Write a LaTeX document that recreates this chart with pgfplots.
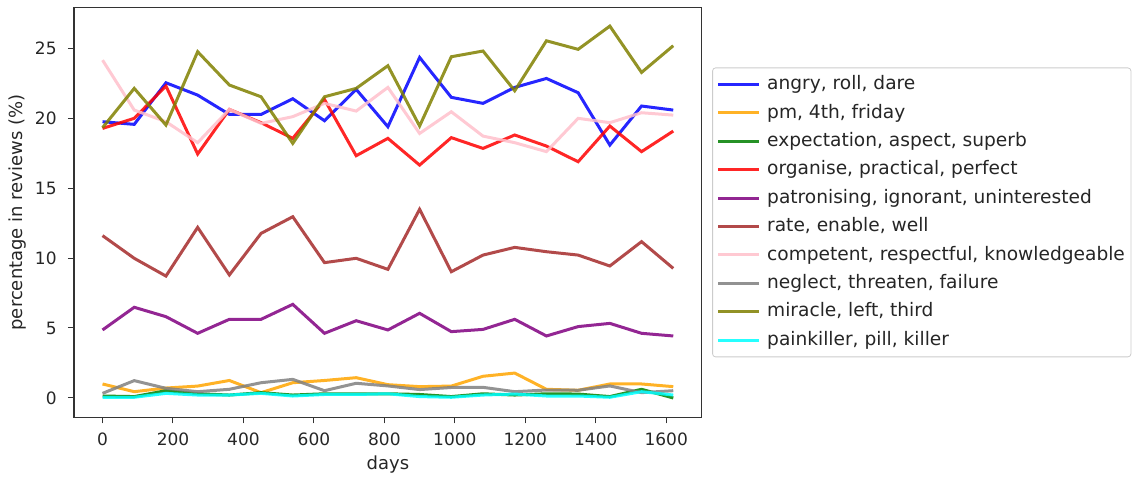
\documentclass[border=0pt]{standalone}
\usepackage{pgfplots}
\pgfplotsset{compat=1.18}
\usepackage{fontspec}
\setmainfont{DejaVu Sans}
\definecolor{mplblue}{RGB}{0,0,255}
\definecolor{mplorange}{RGB}{255,165,0}
\definecolor{mplgreen}{RGB}{0,128,0}
\definecolor{mplred}{RGB}{255,0,0}
\definecolor{mplpurple}{RGB}{128,0,128}
\definecolor{mplbrown}{RGB}{165,42,42}
\definecolor{mplpink}{RGB}{255,192,203}
\definecolor{mplgray}{RGB}{128,128,128}
\definecolor{mplolive}{RGB}{128,128,0}
\definecolor{mplcyan}{RGB}{0,255,255}
\begin{document}
\begin{tikzpicture}
\begin{axis}[
  scale only axis,
  width=313.9pt, height=204.9pt,
  xmin=-81, xmax=1701, ymin=-1.38, ymax=27.9,
  xtick={0,200,...,1600}, ytick={0,5,...,25},
  tick align=outside, tick pos=left,
  major tick length=3pt,
  every tick/.style={black!80, line width=0.5pt},
  axis line style={black!80, line width=0.6pt},
  /pgf/number format/assume math mode=true,
  /pgf/number format/1000 sep={},
  tick label style={font=\fontsize{8.5}{9}\selectfont, text=black!85},
  yticklabel style={inner sep=0pt, xshift=-5.5pt},
  xticklabel style={inner sep=0pt, yshift=-4.7pt},
  xlabel={days}, ylabel={percentage in reviews (\%)},
  label style={font=\fontsize{9}{10}\selectfont, text=black!85},
  xlabel style={at={(axis description cs:0.5,-0.116)}, anchor=center},
  ylabel style={at={(axis description cs:-0.09,0.5)}, anchor=center},
  every axis plot/.append style={line width=1.5pt, opacity=0.85},
  legend style={at={(1,0.5)}, xshift=5.2pt, anchor=west,
    draw=black!20, rounded corners=1.5pt, fill=white,
    font=\fontsize{9.3}{10}\selectfont, text=black!85,
    row sep=3.5pt, inner xsep=2pt, inner ysep=3pt,
    nodes={inner sep=1pt, text height=6.9pt, text depth=1.8pt},
    cells={anchor=west},
    /tikz/every odd column/.append style={column sep=2.5pt}},
  legend image code/.code={\draw[#1] (0pt,0pt) -- (20.3pt,0pt);},
]
\addplot[mplblue] coordinates {(0,19.74)(90,19.55)(180,22.52)(270,21.64)(360,20.26)(450,20.26)(540,21.38)(630,19.81)(720,22.05)(810,19.38)(900,24.33)(990,21.48)(1080,21.05)(1170,22.19)(1260,22.83)(1350,21.81)(1440,18.07)(1530,20.86)(1620,20.57)};
\addlegendentry{angry, roll, dare}
\addplot[mplorange] coordinates {(0,1.0)(90,0.45)(180,0.71)(270,0.85)(360,1.25)(450,0.38)(540,1.09)(630,1.25)(720,1.45)(810,0.95)(900,0.81)(990,0.85)(1080,1.55)(1170,1.78)(1260,0.62)(1350,0.55)(1440,1.0)(1530,1.0)(1620,0.81)};
\addlegendentry{pm, 4th, friday}
\addplot[mplgreen] coordinates {(0,0.14)(90,0.1)(180,0.52)(270,0.3)(360,0.21)(450,0.38)(540,0.21)(630,0.3)(720,0.3)(810,0.3)(900,0.25)(990,0.1)(1080,0.3)(1170,0.21)(1260,0.3)(1350,0.28)(1440,0.1)(1530,0.62)(1620,0.0)};
\addlegendentry{expectation, aspect, superb}
\addplot[mplred] coordinates {(0,19.26)(90,19.98)(180,22.29)(270,17.43)(360,20.62)(450,19.67)(540,18.55)(630,21.33)(720,17.31)(810,18.55)(900,16.64)(990,18.6)(1080,17.83)(1170,18.79)(1260,18.0)(1350,16.88)(1440,19.43)(1530,17.6)(1620,19.07)};
\addlegendentry{organise, practical, perfect}
\addplot[mplpurple] coordinates {(0,4.86)(90,6.48)(180,5.81)(270,4.62)(360,5.62)(450,5.62)(540,6.69)(630,4.62)(720,5.52)(810,4.86)(900,6.05)(990,4.74)(1080,4.9)(1170,5.62)(1260,4.43)(1350,5.1)(1440,5.33)(1530,4.62)(1620,4.43)};
\addlegendentry{patronising, ignorant, uninterested}
\addplot[mplbrown] coordinates {(0,11.6)(90,9.98)(180,8.71)(270,12.19)(360,8.79)(450,11.76)(540,12.95)(630,9.67)(720,9.98)(810,9.19)(900,13.48)(990,9.02)(1080,10.21)(1170,10.76)(1260,10.45)(1350,10.21)(1440,9.43)(1530,11.17)(1620,9.26)};
\addlegendentry{rate, enable, well}
\addplot[mplpink] coordinates {(0,24.14)(90,20.57)(180,19.74)(270,18.24)(360,20.62)(450,19.62)(540,20.1)(630,21.05)(720,20.5)(810,22.19)(900,18.9)(990,20.45)(1080,18.71)(1170,18.24)(1260,17.6)(1350,19.98)(1440,19.67)(1530,20.38)(1620,20.21)};
\addlegendentry{competent, respectful, knowledgeable}
\addplot[mplgray] coordinates {(0,0.33)(90,1.24)(180,0.69)(270,0.45)(360,0.62)(450,1.09)(540,1.33)(630,0.52)(720,1.05)(810,0.86)(900,0.6)(990,0.75)(1080,0.76)(1170,0.45)(1260,0.57)(1350,0.55)(1440,0.86)(1530,0.38)(1620,0.52)};
\addlegendentry{neglect, threaten, failure}
\addplot[mplolive] coordinates {(0,19.31)(90,22.12)(180,19.5)(270,24.74)(360,22.36)(450,21.52)(540,18.19)(630,21.52)(720,22.12)(810,23.74)(900,19.43)(990,24.38)(1080,24.79)(1170,21.95)(1260,25.52)(1350,24.91)(1440,26.57)(1530,23.26)(1620,25.17)};
\addlegendentry{miracle, left, third}
\addplot[mplcyan] coordinates {(0,0.05)(90,0.05)(180,0.33)(270,0.21)(360,0.21)(450,0.33)(540,0.14)(630,0.25)(720,0.25)(810,0.3)(900,0.1)(990,0.05)(1080,0.21)(1170,0.28)(1260,0.14)(1350,0.14)(1440,0.05)(1530,0.45)(1620,0.21)};
\addlegendentry{painkiller, pill, killer}
\end{axis}
\pgfresetboundingbox
\useasboundingbox (-37pt,-31.35pt) rectangle (531.5pt,208.65pt);
\end{tikzpicture}
\end{document}
